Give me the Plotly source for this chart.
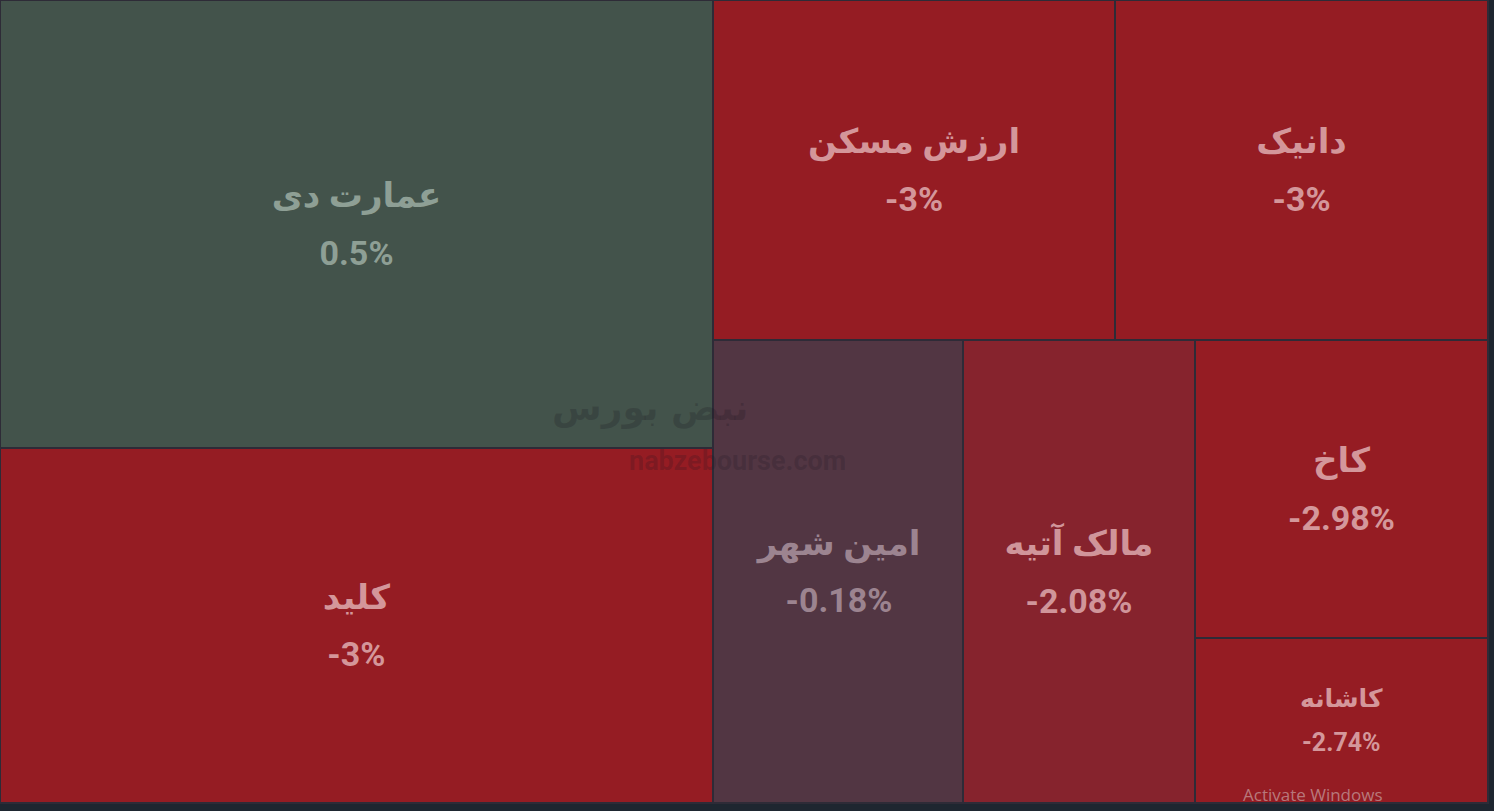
import plotly.graph_objects as go

# ---- data ----
labels = ["عمارت دی", "کلید", "ارزش مسکن", "دانیک", "امین شهر", "مالک آتیه", "کاخ", "کاشانه"]
changes = ["0.5%", "-3%", "-3%", "-3%", "-0.18%", "-2.08%", "-2.98%", "-2.74%"]
sizes = [319424, 253115, 136680, 126820, 115750, 107416, 87314, 48345]

# ---- styles ----
tile_colors = ["#43534B", "#951C23", "#951C23", "#951C23", "#523643", "#86232D", "#951C23", "#951C23"]
text_colors = ["#8E9F95", "#D4969A", "#D4969A", "#D4969A", "#9C8490", "#D0959A", "#D4979B", "#D4979B"]
glyph_px = [34, 34, 34, 34, 34, 34, 34, 25]      # visible glyph size
line_px = [44, 44, 44, 44, 44, 44, 44, 34]       # controls line spacing

W, H = 1494, 811
texts = [
    f"<span style='font-size:{g}px'>{l}</span><br><span style='font-size:{g}px'>{c}</span>"
    for l, c, g in zip(labels, changes, glyph_px)
]

fig = go.Figure(go.Treemap(
    labels=labels,
    parents=[""] * len(labels),
    values=sizes,
    text=texts,
    texttemplate="%{text}",
    textposition="middle center",
    textfont=dict(family="Roboto, DejaVu Sans, sans-serif", size=line_px, color=text_colors, weight="bold"),
    marker=dict(colors=tile_colors, line=dict(color="#2E2B37", width=2), pad=dict(t=0, l=0, r=0, b=0)),
    tiling=dict(packing="squarify", squarifyratio=1, pad=0),
    pathbar=dict(visible=False),
    sort=True,
    hoverinfo="none",
    domain=dict(x=[0, 1488 / W], y=[(H - 803) / H, 1]),
))

annotations = [
    dict(text="نبض بورس", x=650 / W, y=1 - 408 / H, font=dict(size=36, color="rgba(25,20,30,0.22)", family="DejaVu Sans", weight="bold")),
    dict(text="nabzebourse.com", x=737 / W, y=1 - 461 / H, font=dict(size=27, color="rgba(25,20,30,0.2)", family="Roboto", weight="bold")),
    dict(text="Activate Windows", x=1313 / W, y=1 - 794 / H, font=dict(size=17, color="rgba(215,200,200,0.55)", family="Open Sans")),
]
for a in annotations:
    a.update(xref="paper", yref="paper", showarrow=False, xanchor="center", yanchor="middle")

fig.update_layout(
    width=W, height=H,
    margin=dict(l=0, r=0, t=0, b=0),
    paper_bgcolor="#1E2630",
    plot_bgcolor="#1E2630",
    annotations=annotations,
    hovermode=False,
)

fig.write_html("out.html")
